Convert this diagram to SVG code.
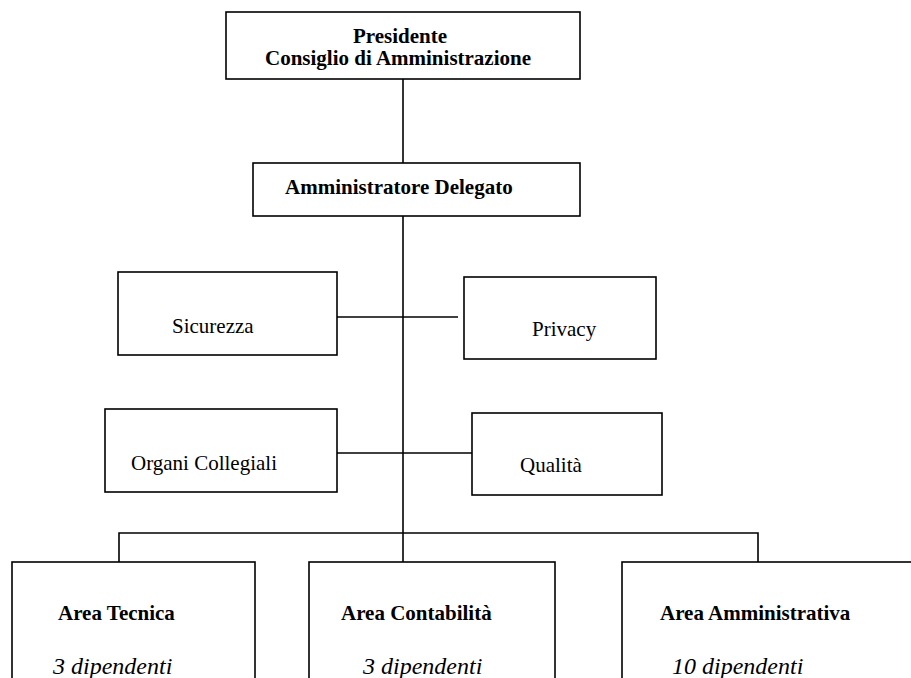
<svg xmlns="http://www.w3.org/2000/svg" width="911" height="678" viewBox="0 0 911 678">
<style>
.box{fill:#fff;stroke:#000;stroke-width:1.6}
.ln{stroke:#000;stroke-width:1.6;fill:none}
.t{font-family:"Liberation Serif","Times New Roman",serif;font-size:21px;fill:#000}
.b{font-weight:bold}
.i{font-style:italic;font-size:24px}
</style>
<rect width="911" height="678" fill="#fff"/>
<g id="connectors">
<line class="ln" x1="403" y1="79" x2="403" y2="163"/>
<line class="ln" x1="403" y1="216" x2="403" y2="562"/>
<line class="ln" x1="337" y1="317" x2="458" y2="317"/>
<line class="ln" x1="337" y1="453" x2="472" y2="453"/>
<polyline class="ln" points="119,562 119,533 758,533 758,562"/>
</g>
<g id="presidente">
<rect class="box" x="226" y="12" width="354" height="67"/>
<text class="t b" x="353" y="43">Presidente</text>
<text class="t b" x="265" y="65">Consiglio di Amministrazione</text>
</g>
<g id="amministratore">
<rect class="box" x="253" y="163" width="327" height="53"/>
<text class="t b" x="285" y="194">Amministratore Delegato</text>
</g>
<g id="sicurezza">
<rect class="box" x="118" y="272" width="219" height="83"/>
<text class="t" x="172" y="333">Sicurezza</text>
</g>
<g id="privacy">
<rect class="box" x="464" y="277" width="192" height="82"/>
<text class="t" x="532" y="336">Privacy</text>
</g>
<g id="organi">
<rect class="box" x="105" y="409" width="232" height="83"/>
<text class="t" x="131" y="470">Organi Collegiali</text>
</g>
<g id="qualita">
<rect class="box" x="472" y="413" width="190" height="82"/>
<text class="t" x="520" y="472">Qualità</text>
</g>
<g id="tecnica">
<rect class="box" x="12" y="562" width="243" height="140"/>
<text class="t b" x="58" y="620">Area Tecnica</text>
<text class="t i" x="53" y="674">3 dipendenti</text>
</g>
<g id="contabilita">
<rect class="box" x="309" y="562" width="246" height="140"/>
<text class="t b" x="341" y="620">Area Contabilità</text>
<text class="t i" x="363" y="674">3 dipendenti</text>
</g>
<g id="amministrativa">
<rect class="box" x="622" y="562" width="300" height="140"/>
<text class="t b" x="660" y="620">Area Amministrativa</text>
<text class="t i" x="672" y="674">10 dipendenti</text>
</g>
</svg>
